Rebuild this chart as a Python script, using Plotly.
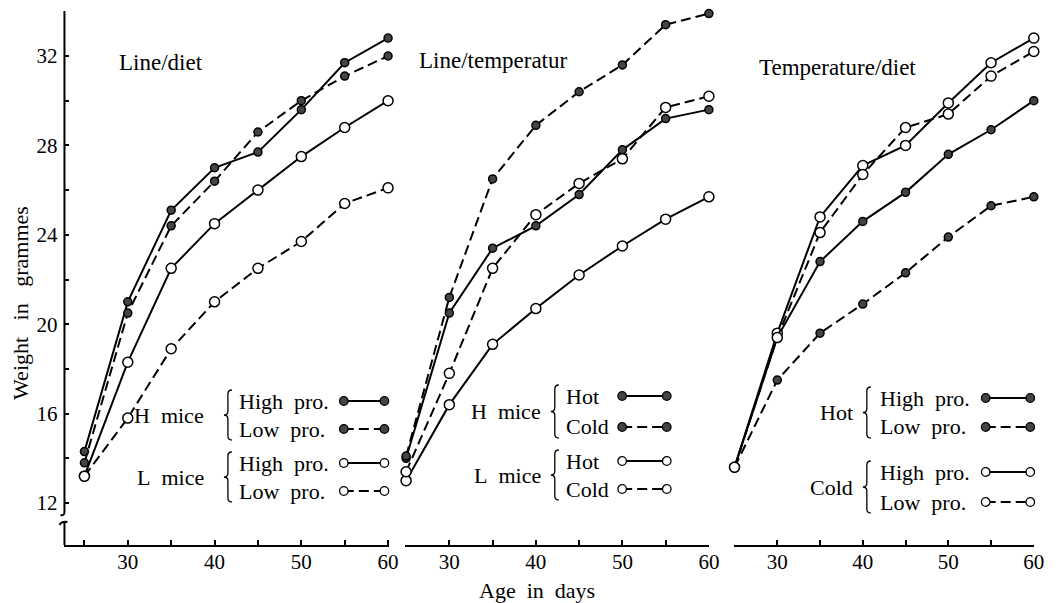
import plotly.graph_objects as go

W, H = 1061, 603
OFF = 8  # page body margin compensation

days = [25, 30, 35, 40, 45, 50, 55, 60]
x_tick_vals = [25, 30, 35, 40, 45, 50, 55, 60]
x_tick_text = ["", "30", "", "40", "", "50", "", "60"]
y_tick_vals = [12, 14, 16, 18, 20, 22, 24, 26, 28, 30, 32]
y_tick_text = ["12", "", "16", "", "20", "", "24", "", "28", "", "32"]

# Panel 1: Line/diet
ld_h_high = [14.3, 21.0, 25.1, 27.0, 27.7, 29.6, 31.7, 32.8]
ld_h_low = [13.8, 20.5, 24.4, 26.4, 28.6, 30.0, 31.1, 32.0]
ld_l_high = [13.2, 18.3, 22.5, 24.5, 26.0, 27.5, 28.8, 30.0]
ld_l_low = [13.2, 15.8, 18.9, 21.0, 22.5, 23.7, 25.4, 26.1]

# Panel 2: Line/temperature
lt_h_hot = [14.0, 20.5, 23.4, 24.4, 25.8, 27.8, 29.2, 29.6]
lt_h_cold = [14.1, 21.2, 26.5, 28.9, 30.4, 31.6, 33.4, 33.9]
lt_l_hot = [13.0, 16.4, 19.1, 20.7, 22.2, 23.5, 24.7, 25.7]
lt_l_cold = [13.4, 17.8, 22.5, 24.9, 26.3, 27.4, 29.7, 30.2]

# Panel 3: Temperature/diet
td_hot_high = [13.6, 19.4, 22.8, 24.6, 25.9, 27.6, 28.7, 30.0]
td_hot_low = [13.6, 17.5, 19.6, 20.9, 22.3, 23.9, 25.3, 25.7]
td_cold_high = [13.6, 19.6, 24.8, 27.1, 28.0, 29.9, 31.7, 32.8]
td_cold_low = [13.6, 19.4, 24.1, 26.7, 28.8, 29.4, 31.1, 32.2]

panel_titles = ["Line/diet", "Line/temperatur", "Temperature/diet"]
NB = "\u00a0"
legend_groups = [
    [("H" + NB * 2 + "mice", ["High" + NB * 2 + "pro.", "Low" + NB * 2 + "pro."], True),
     ("L" + NB * 2 + "mice", ["High" + NB * 2 + "pro.", "Low" + NB * 2 + "pro."], False)],
    [("H" + NB * 2 + "mice", ["Hot", "Cold"], True),
     ("L" + NB * 2 + "mice", ["Hot", "Cold"], False)],
    [("Hot", ["High" + NB * 2 + "pro.", "Low" + NB * 2 + "pro."], True),
     ("Cold", ["High" + NB * 2 + "pro.", "Low" + NB * 2 + "pro."], False)],
]

FONT = "Liberation Serif"
FS = 22
DASH = "10px,5px"
FILL_DARK = "#444444"


def px(x):
    return (x - OFF) / W


def py(y):
    return 1 - (y - OFF) / H


fig = go.Figure()

panels = [
    ("x", "y", [(ld_h_high, True, False), (ld_h_low, True, True),
                (ld_l_high, False, False), (ld_l_low, False, True)]),
    ("x2", "y2", [(lt_h_hot, True, False), (lt_h_cold, True, True),
                  (lt_l_hot, False, False), (lt_l_cold, False, True)]),
    ("x3", "y3", [(td_hot_high, True, False), (td_hot_low, True, True),
                  (td_cold_high, False, False), (td_cold_low, False, True)]),
]

for xa, ya, series in panels:
    for vals, filled, dashed in series:
        fig.add_trace(go.Scatter(
            x=days, y=vals, xaxis=xa, yaxis=ya, mode="lines+markers",
            line=dict(color="black", width=2, dash=DASH if dashed else "solid"),
            marker=dict(symbol="circle", size=8 if filled else 10,
                        color=FILL_DARK if filled else "white",
                        line=dict(color="black", width=1.5)),
            cliponaxis=False, showlegend=False, hoverinfo="skip"))

y_dom = [py(545), py(11)]
y_rng = [12 - (545 - 503) / 22.35, 32 + (56 - 11) / 22.35]
x_doms = [[px(65), px(393)], [px(409), px(716)], [px(741), px(1044)]]
x_rngs = [[22.7, 60.15], [24.9, 60.05], [24.95, 60.05]]

axis_common = dict(showgrid=False, zeroline=False, ticks="inside", ticklen=5,
                   tickwidth=1.5, tickcolor="black",
                   tickfont=dict(family=FONT, size=21, color="black"))

layout = dict(width=W, height=H, margin=dict(l=0, r=0, t=0, b=0),
              paper_bgcolor="white", plot_bgcolor="white", showlegend=False)

for i in range(3):
    sx = "" if i == 0 else str(i + 1)
    layout["xaxis" + sx] = dict(domain=x_doms[i], range=x_rngs[i], anchor="y" + sx,
                                tickvals=x_tick_vals, ticktext=x_tick_text,
                                showline=True, linecolor="black", linewidth=2,
                                ticklabelstandoff=-3, **axis_common)
    if i == 0:
        layout["yaxis"] = dict(domain=y_dom, range=y_rng, anchor="x",
                               tickvals=y_tick_vals, ticktext=y_tick_text,
                               showline=False, ticklabelstandoff=6, **axis_common)
    else:
        layout["yaxis" + sx] = dict(domain=y_dom, range=y_rng, anchor="x" + sx,
                                    visible=False)

fig.update_layout(**layout)

shapes = []
# y axis line with break
shapes.append(dict(type="path", xref="paper", yref="paper",
                   path=f"M {px(65)},{py(11)} L {px(65)},{py(512)} Q {px(65)},{py(516)} {px(61)},{py(515)}",
                   line=dict(color="black", width=2)))
shapes.append(dict(type="path", xref="paper", yref="paper",
                   path=f"M {px(60)},{py(525)} Q {px(62)},{py(521)} {px(68)},{py(522)} M {px(65)},{py(521.5)} L {px(65)},{py(545)}",
                   line=dict(color="black", width=2)))


def brace(x, y0, y1, d=4):
    ym = (y0 + y1) / 2
    p = (f"M {px(x + d)},{py(y0)} Q {px(x)},{py(y0)} {px(x)},{py(y0 + d)} "
         f"L {px(x)},{py(ym - d)} Q {px(x)},{py(ym)} {px(x - d)},{py(ym)} "
         f"Q {px(x)},{py(ym)} {px(x)},{py(ym + d)} "
         f"L {px(x)},{py(y1 - d)} Q {px(x)},{py(y1)} {px(x + d)},{py(y1)}")
    return dict(type="path", xref="paper", yref="paper", path=p,
                line=dict(color="black", width=1.3))


def sample(x0, x1, y, filled, dashed):
    out = [dict(type="line", xref="paper", yref="paper",
                x0=px(x0), x1=px(x1), y0=py(y), y1=py(y),
                line=dict(color="black", width=2, dash=DASH if dashed else "solid"))]
    r = 4.3
    for cx in (x0, x1):
        out.append(dict(type="circle", xref="paper", yref="paper",
                        x0=px(cx - r), x1=px(cx + r), y0=py(y - r), y1=py(y + r),
                        fillcolor=FILL_DARK if filled else "white",
                        line=dict(color="black", width=1.3)))
    return out


annotations = []


def text(t, x, y, xanchor="center", size=FS, angle=0):
    annotations.append(dict(text=t, x=px(x), y=py(y), xref="paper", yref="paper",
                            xanchor=xanchor, yanchor="middle", showarrow=False,
                            textangle=angle,
                            font=dict(family=FONT, size=size, color="black")))


# panel titles
title_pos = [(162, 62), (498, 60), (845, 68)]
for t, (x, y) in zip(panel_titles, title_pos):
    text(t, x, y, size=23)

# legends: (group-name right edge, brace x, label left, sample x0, x1, group rows)
legend_geo = [
    (208, 230, 239, 347, 388, [(401, 429), (463, 491)]),
    (548, 560, 569, 628, 673, [(396, 427), (461, 489)]),
    (863, 875, 886, 995, 1040, [(398, 427), (472, 502)]),
]
for groups, (gx, bx, lx, s0, s1, rows) in zip(legend_groups, legend_geo):
    for (gname, labels, filled), (r1, r2) in zip(groups, rows):
        text(gname, gx, (r1 + r2) / 2, xanchor="right")
        shapes.append(brace(bx, r1 - 11, r2 + 11))
        text(labels[0], lx, r1, xanchor="left")
        text(labels[1], lx, r2, xanchor="left")
        shapes += sample(s0, s1, r1, filled, False)
        shapes += sample(s0, s1, r2, filled, True)

text("Age" + NB * 2 + "in" + NB * 2 + "days", 542, 590)
text("Weight" + NB * 3 + "in" + NB * 3 + "grammes", 20, 303, size=22, angle=-90)

fig.update_layout(shapes=shapes, annotations=annotations)
fig.write_html("out.html")
